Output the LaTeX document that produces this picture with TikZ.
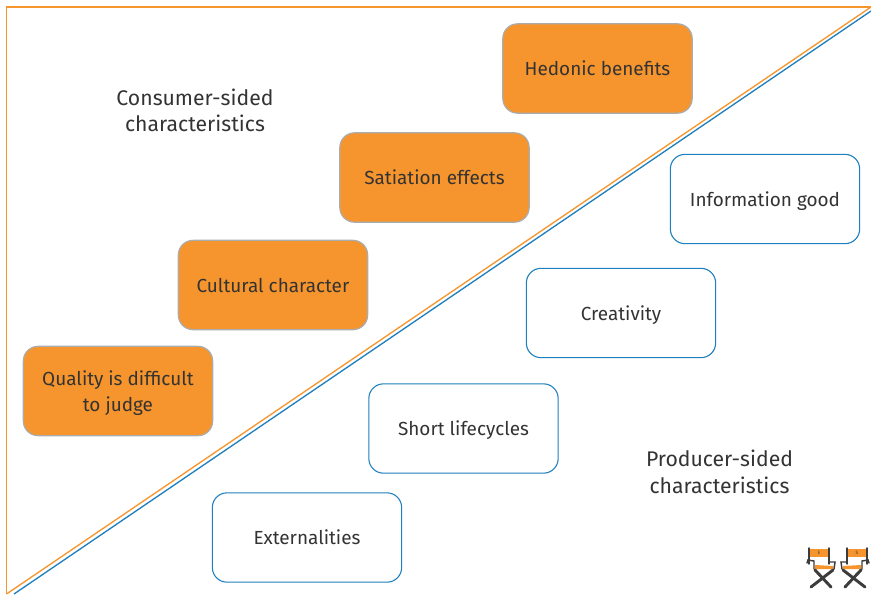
\documentclass[tikz,border=0pt]{standalone}
\usepackage{fontspec}
\setmainfont{Fira Sans}
\usepackage{xcolor}
\definecolor{consumer}{HTML}{F6952D}
\definecolor{producer}{HTML}{1F7FBF}
\definecolor{boxline}{HTML}{A9ADB0}
\definecolor{ink}{HTML}{333333}
\definecolor{chairframe}{HTML}{3C3C3C}
\usepackage{tikz}
\usetikzlibrary{positioning}

\tikzset{
	consumerbox/.style={draw=boxline,fill=consumer,line width=0.9pt,rounded corners=11pt,minimum width=142pt,minimum height=67pt,align=center,inner sep=1pt,text depth=0pt},
	producerbox/.style={draw=producer,fill=white,line width=0.8pt,rounded corners=11pt,minimum width=142pt,minimum height=67pt,align=center,inner sep=1pt,text depth=0pt},
	sidelabel/.style={align=center,inner sep=0pt,font=\fontsize{15.9pt}{20pt}\selectfont},
	chairbar/.style={draw=chairframe,line width=1.1pt,line cap=round},
	chair/.pic={
		\fill[consumer] (0,0) rectangle (20,8);
		\fill[consumer] (6,16) -- (24,17) -- (24,20) -- (6,20) -- cycle;
		\draw[chairbar] (0,-1) -- (0,15) (20,-1) -- (20,15);
		\draw[chairbar] (-2,14) -- (-1,11) -- (5,12) -- (5,20);
		\draw[chairbar] (20,13) -- (26,13) -- (25,20);
		\draw[chairbar,line width=2.2pt] (2,38) -- (24,21) (22,38) -- (6,21);
		\node (letter) [inner sep=0pt,text=chairframe,font=\fontsize{3.5pt}{3.5pt}\selectfont] at (10,4) {\tikzpictext};
	}
}

\begin{document}
\begin{tikzpicture}[x=0.75pt,y=-0.75pt,every node/.append style={text=ink,font=\fontsize{14.2pt}{19.5pt}\selectfont}]
	\useasboundingbox (0,0) rectangle (871,594);
	% frame and dividing lines
	\coordinate (tl) at (6.5,7);
	\coordinate (tr) at (871,7);
	\coordinate (bl) at (6.5,594);
	\coordinate (br) at (14,594);
	\coordinate (tb) at (871,11);
	\draw[consumer,line width=1pt] (bl) -- (tl) -- (tr);
	\draw[consumer,line width=1pt] (bl) -- (tr);
	\draw[producer,line width=1pt] (br) -- (tb);
	% consumer side
	\node (hedonic) [consumerbox] at (597.5,68.5) {Hedonic benefits};
	\node (satiation) [consumerbox] at (434.5,177.5) {Satiation effects};
	\node (cultural) [consumerbox] at (273,285) {Cultural character};
	\node (quality) [consumerbox] at (118,391) {Quality is difficult\\to judge};
	% producer side
	\node (information) [producerbox] at (765,199) {Information good};
	\node (creativity) [producerbox] at (621,313) {Creativity};
	\node (lifecycles) [producerbox] at (463.5,428.5) {Short lifecycles};
	\node (externalities) [producerbox] at (307,537.5) {Externalities};
	% labels
	\node (consumer) [sidelabel] at (195,110.5) {Consumer-sided\\characteristics};
	\node (producer) [sidelabel] at (719.5,472) {Producer-sided\\characteristics};
	% chairs
	\pic[pic text=E] at (809,549) {chair};
	\pic[pic text=S,xscale=-1] at (867,549) {chair};
\end{tikzpicture}
\end{document}
